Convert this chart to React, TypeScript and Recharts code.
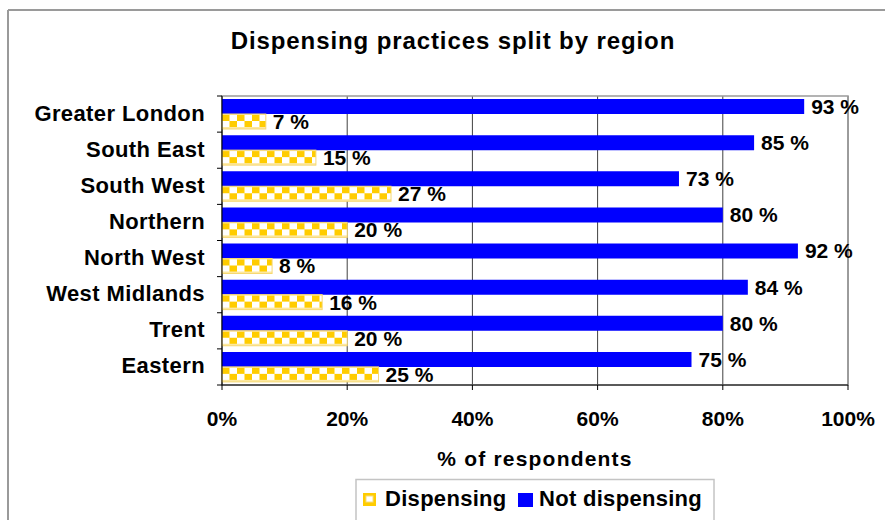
import React from "react";
import {
  Bar,
  BarChart,
  CartesianGrid,
  LabelList,
  ReferenceArea,
  XAxis,
  YAxis,
} from "recharts";

const REGIONS = [
  "Greater London",
  "South East",
  "South West",
  "Northern",
  "North West",
  "West Midlands",
  "Trent",
  "Eastern",
];
const NOT_DISPENSING = [93, 85, 73, 80, 92, 84, 80, 75];
const DISPENSING = [7, 15, 27, 20, 8, 16, 20, 25];
const PCT_TICKS = [0, 20, 40, 60, 80, 100];

const data = REGIONS.map((region, i) => ({
  region,
  notDispensing: NOT_DISPENSING[i],
  dispensing: DISPENSING[i],
}));

const FONT = '"Liberation Sans", Arial, sans-serif';
const BLUE = "#0000ff";
const GOLD = "#ffcc00";
const PALE = "#fde8a0";
const FRAME = "#9a9a9a";

// category labels, plus the little marks Excel puts between categories
function RegionTick(props: any) {
  const { x, y, payload } = props;
  const half = payload?.offset || 18;
  const last = payload?.value === REGIONS[REGIONS.length - 1];
  return (
    <g>
      <text
        x={x}
        y={y}
        dy={6.5}
        textAnchor="end"
        fill="#000"
        fontSize={22}
        fontWeight={700}
        letterSpacing={0.4}
      >
        {payload.value}
      </text>
      <line x1={x + 12} x2={x + 17} y1={y - half} y2={y - half} stroke="#000" />
      {last ? (
        <line x1={x + 12} x2={x + 17} y1={y + half} y2={y + half} stroke="#000" />
      ) : null}
    </g>
  );
}

// translate so the checker rows start at each bar's own top edge
function CheckerBar(props: any) {
  const { x, y, width, height } = props;
  if (!width || !height) return null;
  return (
    <g transform={`translate(${x},${y})`}>
      <rect
        width={width}
        height={height}
        fill="url(#checker)"
        stroke="#f6d872"
        strokeWidth={1}
      />
    </g>
  );
}

export default function App() {
  return (
    <div
      style={{
        position: "absolute",
        left: 0,
        top: 0,
        width: 885,
        height: 520,
        overflow: "hidden",
        background: "#fff",
        fontFamily: FONT,
      }}
    >
      <svg
        width={885}
        height={520}
        style={{ position: "absolute", left: 0, top: 0 }}
      >
        <defs>
          <pattern
            id="checker"
            patternUnits="userSpaceOnUse"
            width={15}
            height={15}
          >
            <rect width={15} height={15} fill="#fff" />
            <rect width={15} height={1} fill={PALE} />
            <rect y={1} width={7.5} height={6} fill={GOLD} />
            <rect x={7.5} y={7} width={7.5} height={6} fill={GOLD} />
            <rect y={13} width={15} height={2} fill={PALE} />
          </pattern>
        </defs>
        {/* chart frame, runs off the right and bottom */}
        <line x1={8} x2={885} y1={10} y2={10} stroke={FRAME} strokeWidth={2} />
        <line x1={8} x2={8} y1={10} y2={520} stroke={FRAME} strokeWidth={2} />
        <text
          x={453}
          y={49}
          textAnchor="middle"
          fontSize={24}
          fontWeight={700}
          letterSpacing={0.9}
          fill="#000"
        >
          Dispensing practices split by region
        </text>
        {/* legend */}
        <rect
          x={356}
          y={479.5}
          width={358}
          height={60}
          fill="#fff"
          stroke="#c4c4c4"
          strokeWidth={1.5}
        />
        <rect x={363} y={493} width={13} height={13} fill={GOLD} />
        <rect x={366} y={496} width={7} height={6} fill="#fff" stroke="#f5dc80" />
        <text x={385} y={505.7} fontSize={22} fontWeight={700} letterSpacing={0.3}>
          Dispensing
        </text>
        <rect x={518} y={493} width={15} height={14} fill={BLUE} />
        <text x={539} y={505.7} fontSize={22} fontWeight={700} letterSpacing={0.3}>
          Not dispensing
        </text>
      </svg>
      <div style={{ position: "absolute", left: 0, top: 0 }}>
        <BarChart
          width={885}
          height={520}
          data={data}
          layout="vertical"
          margin={{ top: 96, right: 37, bottom: 45, left: 7 }}
          barCategoryGap={3}
          barGap={0}
        >
          <CartesianGrid horizontal={false} stroke="#404040" />
          <ReferenceArea
            x1={0}
            x2={100}
            fill="none"
            stroke={FRAME}
            strokeWidth={1.5}
            ifOverflow="visible"
          />
          <XAxis
            type="number"
            domain={[0, 100]}
            ticks={PCT_TICKS}
            tickFormatter={(v: number) => `${v}%`}
            height={90}
            tickSize={5}
            tickMargin={21}
            tick={{ fill: "#000", fontSize: 21, fontWeight: 700 }}
            tickLine={{ stroke: "#000" }}
            axisLine={{ stroke: "#000" }}
            label={{
              value: "% of respondents",
              position: "insideBottom",
              offset: 9,
              fill: "#000",
              fontSize: 21,
              fontWeight: 700,
              letterSpacing: 1.2,
            }}
          />
          <YAxis
            type="category"
            dataKey="region"
            width={215}
            interval={0}
            tickSize={5}
            tickMargin={12}
            tickLine={false}
            tick={<RegionTick />}
            axisLine={{ stroke: "#000" }}
          />
          <Bar
            dataKey="notDispensing"
            name="Not dispensing"
            fill={BLUE}
            isAnimationActive={false}
          >
            <LabelList
              dataKey="notDispensing"
              position="right"
              offset={7}
              formatter={(v: any) => `${v} %`}
              fill="#000"
              fontSize={21}
              fontWeight={700}
            />
          </Bar>
          <Bar
            dataKey="dispensing"
            name="Dispensing"
            fill={GOLD}
            shape={<CheckerBar />}
            isAnimationActive={false}
          >
            <LabelList
              dataKey="dispensing"
              position="right"
              offset={7}
              formatter={(v: any) => `${v} %`}
              fill="#000"
              fontSize={21}
              fontWeight={700}
            />
          </Bar>
        </BarChart>
      </div>
    </div>
  );
}
